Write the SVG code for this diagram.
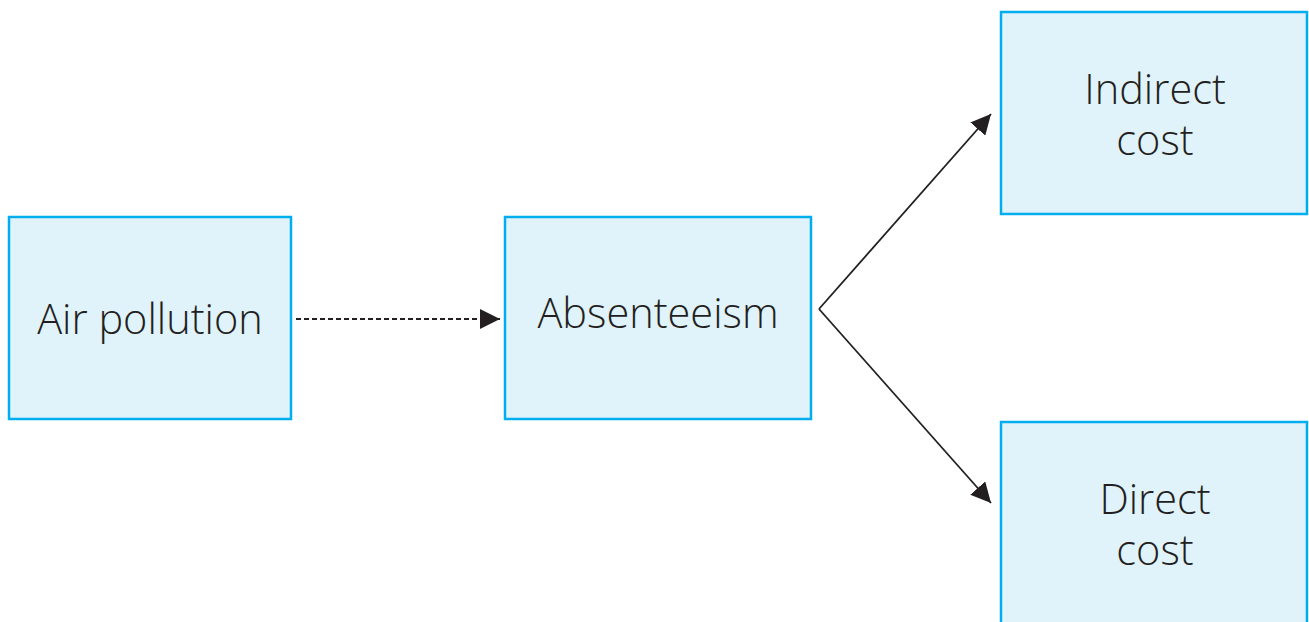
<svg xmlns="http://www.w3.org/2000/svg" width="1309" height="622" viewBox="0 0 1309 622">
<defs>
<style>
.box{fill:#e0f2fa;stroke:#00aeef;stroke-width:2.5}
.lbl{font-family:"Open Sans","Liberation Sans",sans-serif;font-weight:300;font-size:41.5px;fill:#231f20;text-anchor:middle}
.con{stroke:#231f20;stroke-width:1.8;fill:none}
</style>
<marker id="ah2" viewBox="0 0 20 20" refX="20" refY="10" markerWidth="20" markerHeight="20" markerUnits="userSpaceOnUse" orient="auto">
<path d="M0,0 L20,10 L0,20 z" fill="#231f20"/>
</marker>
</defs>
<rect width="1309" height="622" fill="#ffffff"/>
<g id="air-pollution">
<rect class="box" x="9" y="217" width="282" height="202"/>
<text class="lbl" x="150" y="334">Air pollution</text>
</g>
<g id="absenteeism">
<rect class="box" x="505" y="217" width="306" height="202"/>
<text class="lbl" x="658" y="328">Absenteeism</text>
</g>
<g id="indirect-cost">
<rect class="box" x="1001" y="12" width="306" height="202"/>
<text class="lbl" x="1155" y="104">Indirect</text>
<text class="lbl" x="1155" y="155">cost</text>
</g>
<g id="direct-cost">
<rect class="box" x="1001" y="422" width="306" height="210"/>
<text class="lbl" x="1155" y="514">Direct</text>
<text class="lbl" x="1155" y="565">cost</text>
</g>
<g id="connectors">
<line class="con" x1="296" y1="319" x2="500" y2="319" stroke-dasharray="5,3" marker-end="url(#ah2)"/>
<line class="con" x1="819" y1="309" x2="991" y2="114" marker-end="url(#ah2)"/>
<line class="con" x1="819" y1="309" x2="991" y2="503" marker-end="url(#ah2)"/>
</g>
</svg>
